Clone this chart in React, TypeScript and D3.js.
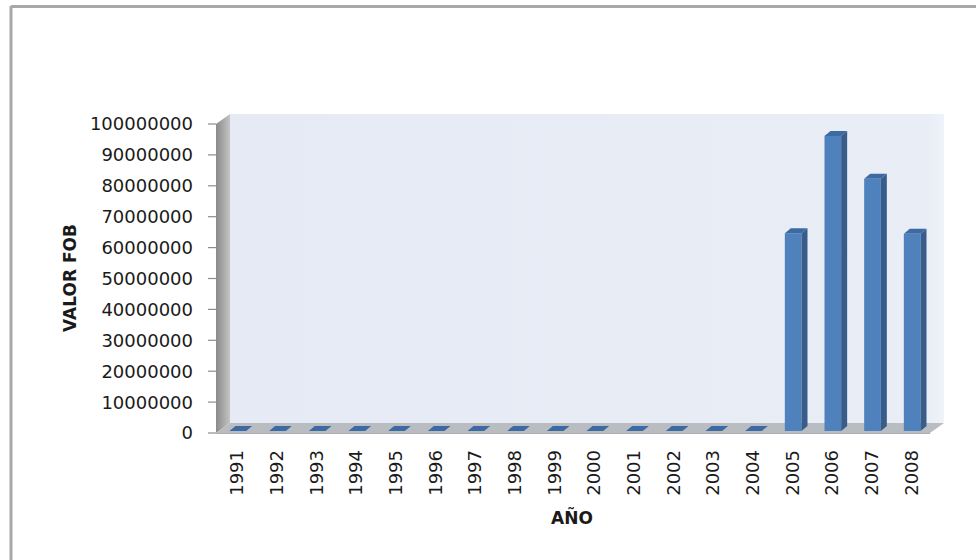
import React from 'react';
import * as d3 from 'd3';

const years = ['1991', '1992', '1993', '1994', '1995', '1996', '1997', '1998', '1999',
  '2000', '2001', '2002', '2003', '2004', '2005', '2006', '2007', '2008'];
const valorFob = [0, 0, 0, 0, 0, 0, 0, 0, 0, 0, 0, 0, 0, 0, 64000000, 95500000, 81600000, 63800000];
const yTicks = [0, 10000000, 20000000, 30000000, 40000000, 50000000, 60000000, 70000000, 80000000, 90000000, 100000000];

const W = 976;
const H = 560;
const FONT = '"DejaVu Sans", Verdana, sans-serif';

// 3d offsets
const DX = 14;
const DY = -10;
const BAR_DX = 6;
const BAR_DY = -5;
const SHIFT_X = 2;
const SHIFT_Y = -2;

const App: React.FC = () => {
  const x = d3.scaleBand<string>().domain(years).range([216, 930]).paddingInner(0).paddingOuter(0);
  const y = d3.scaleLinear().domain([0, 100000000]).range([433, 124]);
  const x0 = 216;
  const x1 = 930;
  const y0 = y(0);
  const yTop = y(100000000);
  const barW = x.bandwidth() * 0.42;

  const poly = (pts: [number, number][]) => pts.map(p => p.join(',')).join(' ');

  return (
    <svg width={W} height={H} style={{ position: 'absolute', left: 0, top: 0, background: '#fff' }}>
      <defs>
        <linearGradient id="leftWall" x1="0" x2="1" y1="0" y2="0">
          <stop offset="0" stopColor="#8a8a8a" />
          <stop offset="1" stopColor="#c4c4c4" />
        </linearGradient>
        <linearGradient id="backWall" x1="0" x2="1" y1="0" y2="0">
          <stop offset="0" stopColor="#e6eaf4" />
          <stop offset="0.98" stopColor="#e9edf6" />
          <stop offset="1" stopColor="#f0f3f9" />
        </linearGradient>
      </defs>

      {/* outer frame */}
      <line x1={11} x2={11} y1={6} y2={H} stroke="#a8a8a8" strokeWidth={3} />
      <line x1={11} x2={W} y1={6.5} y2={6.5} stroke="#a8a8a8" strokeWidth={3} />

      {/* walls */}
      <rect x={x0 + DX} y={yTop + DY} width={x1 - x0} height={y0 - yTop} fill="url(#backWall)" />
      <polygon points={poly([[x0, yTop], [x0 + DX, yTop + DY], [x0 + DX, y0 + DY], [x0, y0]])} fill="url(#leftWall)" />
      <polygon points={poly([[x0, y0], [x0 + DX, y0 + DY], [x1 + DX, y0 + DY], [x1, y0]])} fill="#b9bcc0" />
      <line x1={x0} x2={x1} y1={y0 + 0.5} y2={y0 + 0.5} stroke="#a9acb0" />

      {/* y axis ticks */}
      {yTicks.map(t => (
        <g key={t}>
          <line x1={208} x2={x0} y1={y(t)} y2={y(t)} stroke="#8c8c8c" strokeWidth={1.2} />
          <text x={193} y={y(t)} dy="0.36em" textAnchor="end" fontFamily={FONT} fontSize={18} fill="#1a1a1a">{t}</text>
        </g>
      ))}

      {/* bars */}
      {years.map((yr, i) => {
        const left = x(yr)! + x.bandwidth() / 2 - barW / 2 + SHIFT_X;
        const right = left + barW;
        const bottom = y0 + SHIFT_Y;
        const top = y(valorFob[i]) + SHIFT_Y;
        return (
          <g key={yr}>
            <rect x={left} y={top} width={barW} height={bottom - top} fill="#4f81bd" />
            <polygon points={poly([[right, top], [right + BAR_DX, top + BAR_DY], [right + BAR_DX, bottom + BAR_DY], [right, bottom]])} fill="#385d8a" />
            <polygon points={poly([[left, top], [left + BAR_DX, top + BAR_DY], [right + BAR_DX, top + BAR_DY], [right, top]])} fill="#3c6aa3" />
          </g>
        );
      })}

      {/* x labels */}
      {years.map(yr => {
        const cx = x(yr)! + x.bandwidth() / 2 + 1;
        return (
          <text key={yr} transform={`translate(${cx},450) rotate(-90)`} dy="0.36em" textAnchor="end"
            fontFamily={FONT} fontSize={18} fill="#1a1a1a">{yr}</text>
        );
      })}

      {/* axis titles */}
      <text transform="translate(70,278) rotate(-90)" dy="0.36em" textAnchor="middle" fontFamily={FONT}
        fontSize={17} fontWeight="bold" fill="#1a1a1a">VALOR FOB</text>
      <text x={572} y={518} dy="0.36em" textAnchor="middle" fontFamily={FONT}
        fontSize={17} fontWeight="bold" fill="#1a1a1a">AÑO</text>
    </svg>
  );
};

export default App;
